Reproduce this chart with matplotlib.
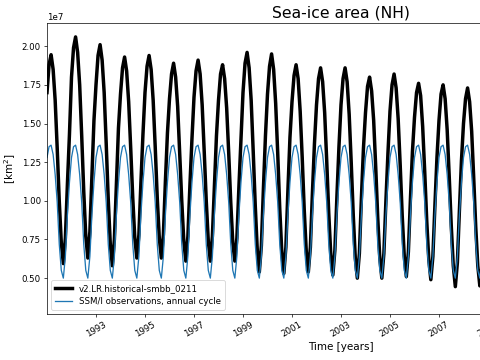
import numpy as np
import matplotlib
matplotlib.use("Agg")
import matplotlib.pyplot as plt

# Model NH sea-ice area, monthly (Jan..Dec), units of 1e7 km^2
years = list(range(1991, 2009))
model_monthly = [
    [1.70, 1.88, 1.945, 1.85, 1.65, 1.34, 1.00, 0.73, 0.594, 0.76, 1.11, 1.43],  # 1991
    [1.80, 1.99, 2.06, 1.96, 1.75, 1.42, 1.06, 0.77, 0.63, 0.80, 1.17, 1.52],   # 1992
    [1.75, 1.94, 2.01, 1.91, 1.70, 1.37, 1.01, 0.72, 0.58, 0.75, 1.12, 1.47],   # 1993
    [1.69, 1.86, 1.93, 1.84, 1.64, 1.34, 1.02, 0.76, 0.63, 0.78, 1.12, 1.43],   # 1994
    [1.70, 1.87, 1.94, 1.85, 1.65, 1.35, 1.02, 0.76, 0.63, 0.78, 1.13, 1.44],   # 1995
    [1.66, 1.82, 1.89, 1.80, 1.61, 1.31, 1.00, 0.74, 0.61, 0.77, 1.10, 1.40],   # 1996
    [1.67, 1.84, 1.91, 1.82, 1.62, 1.32, 1.00, 0.74, 0.61, 0.77, 1.10, 1.42],   # 1997
    [1.65, 1.82, 1.88, 1.79, 1.60, 1.31, 0.99, 0.73, 0.61, 0.76, 1.09, 1.40],   # 1998
    [1.70, 1.89, 1.96, 1.86, 1.65, 1.32, 0.97, 0.68, 0.54, 0.71, 1.08, 1.42],   # 1999
    [1.69, 1.87, 1.95, 1.85, 1.63, 1.31, 0.95, 0.67, 0.53, 0.70, 1.07, 1.41],   # 2000
    [1.64, 1.81, 1.88, 1.79, 1.58, 1.28, 0.94, 0.67, 0.54, 0.70, 1.05, 1.37],   # 2001
    [1.62, 1.79, 1.86, 1.77, 1.57, 1.26, 0.92, 0.65, 0.52, 0.68, 1.03, 1.35],   # 2002
    [1.62, 1.79, 1.86, 1.77, 1.56, 1.25, 0.91, 0.63, 0.50, 0.66, 1.02, 1.34],   # 2003
    [1.57, 1.74, 1.80, 1.71, 1.52, 1.22, 0.89, 0.63, 0.50, 0.66, 1.00, 1.31],   # 2004
    [1.58, 1.75, 1.82, 1.73, 1.53, 1.23, 0.90, 0.64, 0.51, 0.67, 1.01, 1.32],   # 2005
    [1.54, 1.70, 1.76, 1.68, 1.48, 1.19, 0.87, 0.62, 0.49, 0.64, 0.97, 1.28],   # 2006
    [1.52, 1.69, 1.75, 1.66, 1.46, 1.16, 0.84, 0.58, 0.445, 0.60, 0.94, 1.26],  # 2007
    [1.50, 1.66, 1.73, 1.64, 1.45, 1.15, 0.83, 0.58, 0.45, 0.61, 0.94, 1.24],   # 2008
]

# SSM/I observed annual cycle (Jan..Dec), units of 1e7 km^2
obs_cycle = [1.28, 1.35, 1.36, 1.30, 1.17, 0.99, 0.72, 0.55, 0.50, 0.64, 0.91, 1.12]

tick_years = [1993, 1995, 1997, 1999, 2001, 2003, 2005, 2007, 2009]

model = np.array(model_monthly).ravel() * 1e7
obs = np.tile(obs_cycle, len(years)) * 1e7
t = np.array([y + m / 12 for y in years for m in range(12)])

fig = plt.figure(figsize=(7.68, 5.76), dpi=62.5)
ax = fig.add_axes([47 / 480, 46 / 360, 588 / 480, 291 / 360])

ax.plot(t, model, color='black', lw=4, label='v2.LR.historical-smbb_0211')
ax.plot(t, obs, color='C0', lw=1.5, label='SSM/I observations, annual cycle')

ax.set_xlim(1991, 2015)
ax.set_ylim(0.268e7, 2.15e7)
ax.set_xticks(tick_years)
ax.set_xticklabels([str(y) for y in tick_years], rotation=30)
ax.set_xlabel('Time [years]', fontsize=12)
ax.set_ylabel('[km$^2$]', fontsize=12)
ax.set_title('Sea-ice area (NH)', fontsize=18)
ax.legend(loc='lower left', fontsize=10)

fig.savefig('out.png', dpi=62.5)
